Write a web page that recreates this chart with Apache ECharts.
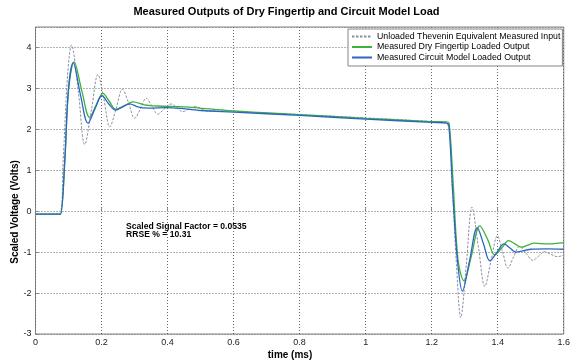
<!DOCTYPE html>
<html>
<head>
<meta charset="utf-8">
<script src="https://cdn.jsdelivr.net/npm/echarts@6/dist/echarts.min.js"></script>
<style>
  html, body { margin: 0; padding: 0; background: #fff; }
  #chart { width: 573px; height: 364px; }
</style>
</head>
<body>
<div id="chart"></div>
<script>
  // values (time in ms, scaled voltage in volts)
  const inputTime = [0, 0.072, 0.084, 0.097, 0.109, 0.13, 0.149, 0.17, 0.189, 0.207, 0.225, 0.244, 0.263, 0.282, 0.3, 0.318, 0.335, 0.352, 0.37, 0.39, 0.411, 0.428, 0.446, 0.465, 0.485, 0.505, 0.525, 0.55, 0.6, 0.8, 1.0, 1.2, 1.245, 1.262, 1.275, 1.288, 1.305, 1.322, 1.342, 1.361, 1.38, 1.399, 1.415, 1.431, 1.448, 1.466, 1.486, 1.506, 1.524, 1.541, 1.56, 1.582, 1.6];
  const inputVolts = [-0.07, -0.07, 1.29, 3.3, 4.06, 2.9, 1.63, 2.5, 3.34, 2.75, 2.06, 2.5, 2.98, 2.65, 2.27, 2.5, 2.76, 2.58, 2.37, 2.5, 2.62, 2.53, 2.43, 2.5, 2.56, 2.49, 2.44, 2.48, 2.44, 2.36, 2.28, 2.19, 2.16, 0.6, -1.3, -2.6, -1.3, 0.1, -0.9, -1.84, -1.2, -0.6, -1.0, -1.39, -1.12, -0.86, -1.03, -1.2, -1.1, -0.99, -1.05, -1.11, -1.07];

  const fingerTime = [0, 0.07, 0.076, 0.089, 0.1, 0.117, 0.14, 0.164, 0.184, 0.204, 0.224, 0.243, 0.27, 0.295, 0.33, 0.37, 0.45, 0.6, 0.8, 1.0, 1.2, 1.245, 1.253, 1.265, 1.28, 1.298, 1.32, 1.346, 1.37, 1.391, 1.412, 1.433, 1.452, 1.471, 1.491, 1.511, 1.55, 1.6];
  const fingerVolts = [-0.07, -0.07, -0.07, 1.25, 2.95, 3.65, 2.95, 2.29, 2.6, 2.88, 2.68, 2.49, 2.58, 2.67, 2.6, 2.57, 2.55, 2.45, 2.36, 2.27, 2.19, 2.18, 2.14, 0.7, -1.2, -1.7, -1.1, -0.36, -0.7, -1.07, -0.9, -0.72, -0.8, -0.88, -0.83, -0.78, -0.8, -0.77];

  const circuitTime = [0, 0.07, 0.076, 0.089, 0.1, 0.114, 0.136, 0.159, 0.18, 0.2015, 0.222, 0.243, 0.264, 0.285, 0.31, 0.34, 0.4, 0.5, 0.6, 0.8, 1.0, 1.2, 1.245, 1.252, 1.265, 1.278, 1.293, 1.315, 1.338, 1.357, 1.376, 1.398, 1.419, 1.437, 1.456, 1.5, 1.55, 1.6];
  const circuitVolts = [-0.07, -0.07, -0.07, 1.29, 3.0, 3.63, 2.85, 2.15, 2.5, 2.82, 2.62, 2.47, 2.55, 2.62, 2.55, 2.52, 2.53, 2.46, 2.42, 2.34, 2.25, 2.17, 2.15, 2.1, 0.28, -1.2, -1.95, -1.2, -0.4, -0.8, -1.21, -1.0, -0.8, -0.9, -1.0, -0.93, -0.92, -0.93];

  const seriesNames = [
    "Unloaded Thevenin Equivalent Measured Input",
    "Measured Dry Fingertip Loaded Output",
    "Measured Circuit Model Loaded Output",
  ];
  const noteLines = ["Scaled Signal Factor = 0.0535", "RRSE % = 10.31"];

  const pairs = (xs, ys) => xs.map((x, i) => [x, ys[i]]);
  const font = "Liberation Sans, Arial, sans-serif";

  const chart = echarts.init(document.getElementById("chart"));

  const option = {
    animation: false,
    backgroundColor: "#fff",
    title: {
      text: "Measured Outputs of Dry Fingertip and Circuit Model Load",
      left: "center",
      top: 6,
      padding: 0,
      textStyle: { fontFamily: font, fontSize: 11, fontWeight: "bold", color: "#000" },
    },
    grid: {
      left: 35.5,
      right: 7,
      top: 27,
      bottom: 30,
      show: true,
      borderColor: "#858585",
      borderWidth: 1,
      backgroundColor: "transparent",
    },
    legend: {
      orient: "vertical",
      left: 348,
      top: 29,
      padding: [3, 2, 4, 3],
      itemWidth: 20,
      itemHeight: 10,
      itemGap: 1.5,
      backgroundColor: "#fff",
      borderColor: "#858585",
      borderWidth: 1,
      borderRadius: 0,
      itemStyle: { opacity: 0 },
      textStyle: { fontFamily: font, fontSize: 8.8, color: "#000" },
      data: seriesNames,
    },
    xAxis: {
      type: "value",
      min: 0,
      max: 1.6,
      interval: 0.2,
      axisLine: { show: false },
      axisTick: { show: true, inside: true, length: 3, lineStyle: { color: "#858585" } },
      axisLabel: { fontFamily: font, fontSize: 9, color: "#222", margin: 4 },
      splitLine: { lineStyle: { type: [1, 2], color: "#666", width: 1 } },
    },
    yAxis: {
      type: "value",
      min: -3,
      max: 4.5,
      interval: 1,
      axisLine: { show: false },
      axisTick: { show: true, inside: true, length: 3, lineStyle: { color: "#858585" } },
      axisLabel: { fontFamily: font, fontSize: 9, color: "#222", margin: 4, showMaxLabel: false },
      splitLine: { lineStyle: { type: [1, 2], color: "#666", width: 1 } },
    },
    graphic: [
      {
        type: "text",
        x: 15,
        y: 212,
        rotation: Math.PI / 2,
        style: {
          text: "Scaled Voltage (Volts)",
          font: "bold 10px " + font,
          fill: "#000",
          align: "center",
          verticalAlign: "middle",
        },
      },
      {
        type: "text",
        x: 290,
        y: 355,
        style: {
          text: "time (ms)",
          font: "bold 10px " + font,
          fill: "#000",
          align: "center",
          verticalAlign: "middle",
        },
      },
      {
        type: "text",
        x: 126,
        y: 222,
        style: {
          text: noteLines.join("\n"),
          font: "bold 8.6px " + font,
          lineHeight: 8.5,
          fill: "#000",
          align: "left",
          verticalAlign: "top",
        },
      },
    ],
    series: [
      {
        name: seriesNames[0],
        type: "line",
        symbol: "none",
        smooth: 0.35,
        lineStyle: { color: "#8890a0", width: 1, type: [2.5, 1.5] },
        itemStyle: { color: "#8890a0" },
        data: pairs(inputTime, inputVolts),
        z: 2,
      },
      {
        name: seriesNames[1],
        type: "line",
        symbol: "none",
        smooth: 0.35,
        lineStyle: { color: "#3bb33b", width: 1.3 },
        itemStyle: { color: "#3bb33b" },
        data: pairs(fingerTime, fingerVolts),
        z: 3,
      },
      {
        name: seriesNames[2],
        type: "line",
        symbol: "none",
        smooth: 0.35,
        lineStyle: { color: "#2f63c4", width: 1.3 },
        itemStyle: { color: "#2f63c4" },
        data: pairs(circuitTime, circuitVolts),
        z: 4,
      },
    ],
  };

  chart.setOption(option);
</script>
</body>
</html>
